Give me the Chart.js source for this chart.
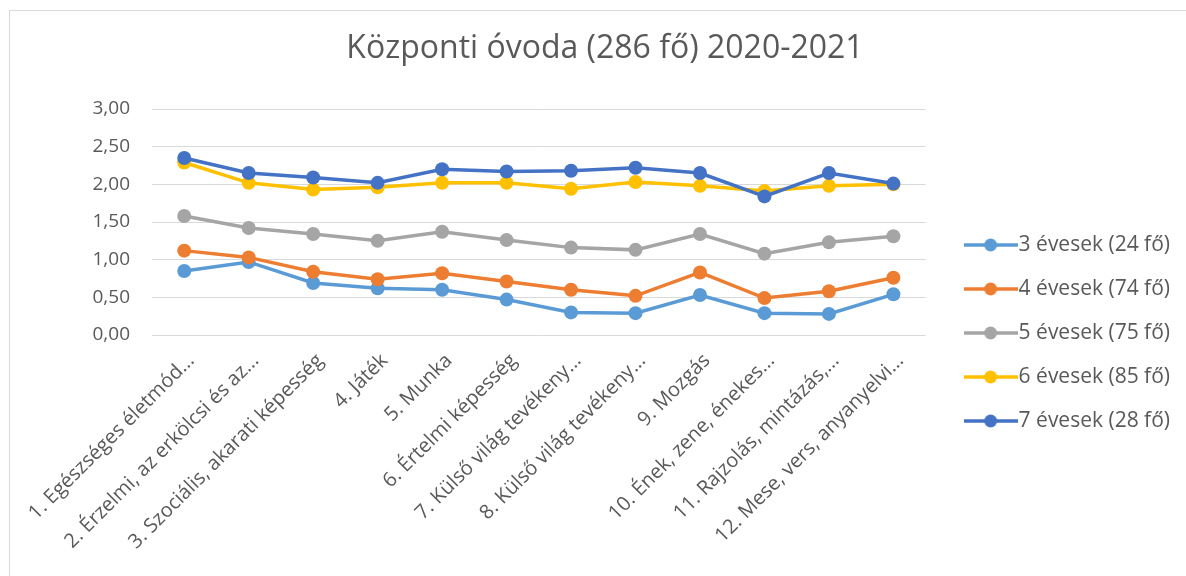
<!DOCTYPE html>
<html>
<head>
<meta charset="utf-8">
<script src="https://cdn.jsdelivr.net/npm/chart.js@4/dist/chart.umd.min.js"></script>
<style>
  html, body { margin: 0; padding: 0; background: #ffffff; }
  #wrap { position: relative; width: 1186px; height: 576px; overflow: hidden; }
  #frame { position: absolute; left: 9px; top: 10px; width: 1200px; height: 600px;
           border-left: 1px solid #d9d9d9; border-top: 1px solid #d9d9d9; pointer-events: none; }
  canvas { position: absolute; left: 0; top: 0; }
</style>
</head>
<body>
<div id="wrap">
  <div id="frame"></div>
  <canvas id="c" width="1186" height="576"></canvas>
</div>
<script>
const chartTitle = "Központi óvoda (286 fő) 2020-2021";
const categories = [
  "1. Egészséges életmód...",
  "2. Érzelmi, az erkölcsi és az...",
  "3. Szociális, akarati képesség",
  "4. Játék",
  "5. Munka",
  "6. Értelmi képesség",
  "7. Külső világ tevékeny...",
  "8. Külső világ tevékeny...",
  "9. Mozgás",
  "10. Ének, zene, énekes...",
  "11. Rajzolás, mintázás,...",
  "12. Mese, vers, anyanyelvi..."
];
const seriesNames = ["3 évesek (24 fő)", "4 évesek (74 fő)", "5 évesek (75 fő)", "6 évesek (85 fő)", "7 évesek (28 fő)"];
const evesek3 = [0.85, 0.97, 0.69, 0.62, 0.60, 0.47, 0.30, 0.29, 0.53, 0.29, 0.28, 0.54];
const evesek4 = [1.12, 1.03, 0.84, 0.74, 0.82, 0.71, 0.60, 0.52, 0.83, 0.49, 0.58, 0.76];
const evesek5 = [1.58, 1.42, 1.34, 1.25, 1.37, 1.26, 1.16, 1.13, 1.34, 1.08, 1.23, 1.31];
const evesek6 = [2.29, 2.02, 1.93, 1.96, 2.02, 2.02, 1.94, 2.03, 1.98, 1.91, 1.98, 2.00];
const evesek7 = [2.35, 2.15, 2.09, 2.02, 2.20, 2.17, 2.18, 2.22, 2.15, 1.84, 2.15, 2.01];
const yMin = 0, yMax = 3, yStep = 0.5;

const seriesValues = [evesek3, evesek4, evesek5, evesek6, evesek7];
const colors = ["#5B9BD5", "#ED7D31", "#A5A5A5", "#FFC000", "#4472C4"];
const FONT = "'Open Sans', 'DejaVu Sans', sans-serif";
const TEXT = "#595959";

function legendSymbol(color) {
  const cv = document.createElement('canvas');
  cv.width = 54; cv.height = 16;
  const g = cv.getContext('2d');
  g.strokeStyle = color; g.lineWidth = 3.5;
  g.beginPath(); g.moveTo(0, 8); g.lineTo(54, 8); g.stroke();
  g.fillStyle = color;
  g.beginPath(); g.arc(27, 8, 6.5, 0, Math.PI * 2); g.fill();
  return cv;
}
const symbols = colors.map(legendSymbol);

const datasets = seriesNames.map((name, i) => ({
  label: name,
  data: seriesValues[i],
  borderColor: colors[i],
  backgroundColor: colors[i],
  pointBackgroundColor: colors[i],
  pointBorderColor: colors[i],
  borderWidth: 3.5,
  pointRadius: 7,
  pointBorderWidth: 0,
  tension: 0,
  order: seriesNames.length - 1 - i
}));

const PAD_LEFT = 54.5, PAD_RIGHT = 30.5, LEGEND_DX = 24.5, LEGEND_DY = 45;
const legendShift = {
  id: 'legendShift',
  afterLayout(chart) {
    const l = chart.legend;
    if (l) { l.top += LEGEND_DY; l.bottom += LEGEND_DY; l.left += LEGEND_DX; l.right += LEGEND_DX; }
  }
};

new Chart(document.getElementById('c'), {
  type: 'line',
  data: { labels: categories, datasets },
  plugins: [legendShift],
  options: {
    responsive: false,
    animation: false,
    events: [],
    layout: { padding: { left: PAD_LEFT, right: PAD_RIGHT, top: 0, bottom: 0 } },
    plugins: {
      tooltip: { enabled: false },
      title: {
        display: true,
        text: chartTitle,
        color: TEXT,
        font: { family: FONT, size: 32, weight: 'normal', lineHeight: 1.2 },
        padding: { top: 29.4, bottom: 41.2 }
      },
      legend: {
        position: 'right',
        align: 'center',
        labels: {
          usePointStyle: true,
          pointStyleWidth: 35,
          padding: 23,
          color: TEXT,
          font: { family: FONT, size: 21 },
          sort: (a, b) => a.datasetIndex - b.datasetIndex,
          generateLabels(chart) {
            const items = Chart.defaults.plugins.legend.labels.generateLabels(chart);
            return items.map(it => Object.assign(it, { pointStyle: symbols[it.datasetIndex] }));
          }
        }
      }
    },
    scales: {
      x: {
        offset: true,
        grid: { display: false, drawTicks: false },
        border: { display: false },
        ticks: {
          color: TEXT,
          font: { family: FONT, size: 20 },
          minRotation: 45, maxRotation: 45,
          autoSkip: false,
          padding: 14,
          labelOffset: 7
        },
        afterFit(scale) { scale.height = 241; }
      },
      y: {
        min: yMin, max: yMax,
        grid: { color: '#d9d9d9', lineWidth: 1, drawTicks: false },
        border: { display: false },
        ticks: {
          stepSize: yStep,
          color: TEXT,
          font: { family: FONT, size: 19 },
          padding: 22,
          callback: v => Number(v).toFixed(2).replace('.', ',')
        },
        afterFit(scale) { scale.width = 152 - PAD_LEFT; }
      }
    }
  }
});
</script>
</body>
</html>
